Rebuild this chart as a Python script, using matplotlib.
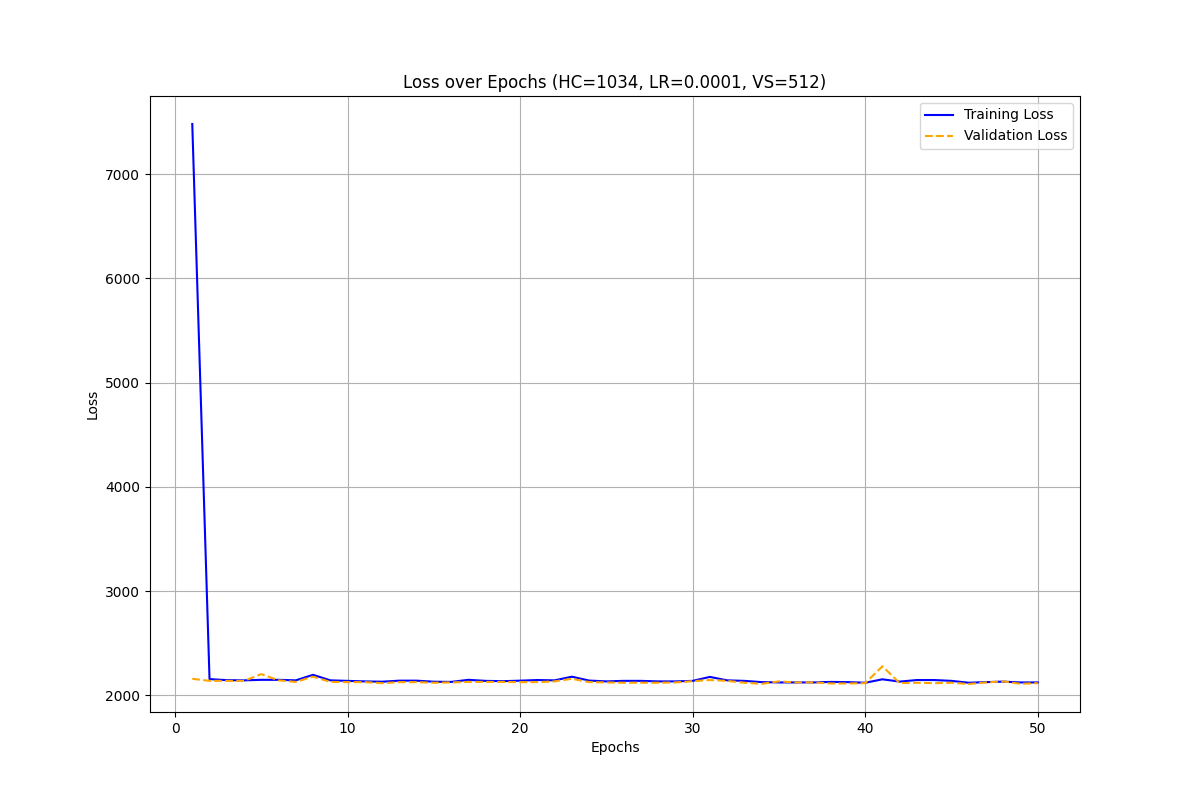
import matplotlib
matplotlib.use('Agg')
import matplotlib.pyplot as plt

epochs = list(range(1, 51))
train_loss = [7480, 2157, 2147, 2145, 2150, 2150, 2145, 2198, 2145, 2140,
              2135, 2132, 2142, 2142, 2132, 2130, 2150, 2140, 2137, 2142,
              2148, 2145, 2180, 2143, 2135, 2140, 2140, 2135, 2135, 2140,
              2178, 2145, 2140, 2128, 2125, 2125, 2125, 2130, 2128, 2122,
              2155, 2133, 2148, 2148, 2140, 2122, 2128, 2133, 2125, 2125]
val_loss = [2160, 2140, 2140, 2140, 2205, 2145, 2130, 2180, 2130, 2128,
            2128, 2118, 2128, 2128, 2122, 2125, 2130, 2130, 2130, 2128,
            2128, 2135, 2160, 2128, 2125, 2122, 2122, 2122, 2125, 2137,
            2148, 2140, 2122, 2112, 2135, 2125, 2125, 2115, 2115, 2118,
            2280, 2118, 2122, 2118, 2122, 2110, 2125, 2135, 2112, 2118]

plt.figure(figsize=(12, 8), dpi=100)
plt.plot(epochs, train_loss, label='Training Loss', color='blue')
plt.plot(epochs, val_loss, label='Validation Loss', color='orange', linestyle='--')
plt.title('Loss over Epochs (HC=1034, LR=0.0001, VS=512)')
plt.xlabel('Epochs')
plt.ylabel('Loss')
plt.legend()
plt.grid(True)
plt.savefig('out.png')
